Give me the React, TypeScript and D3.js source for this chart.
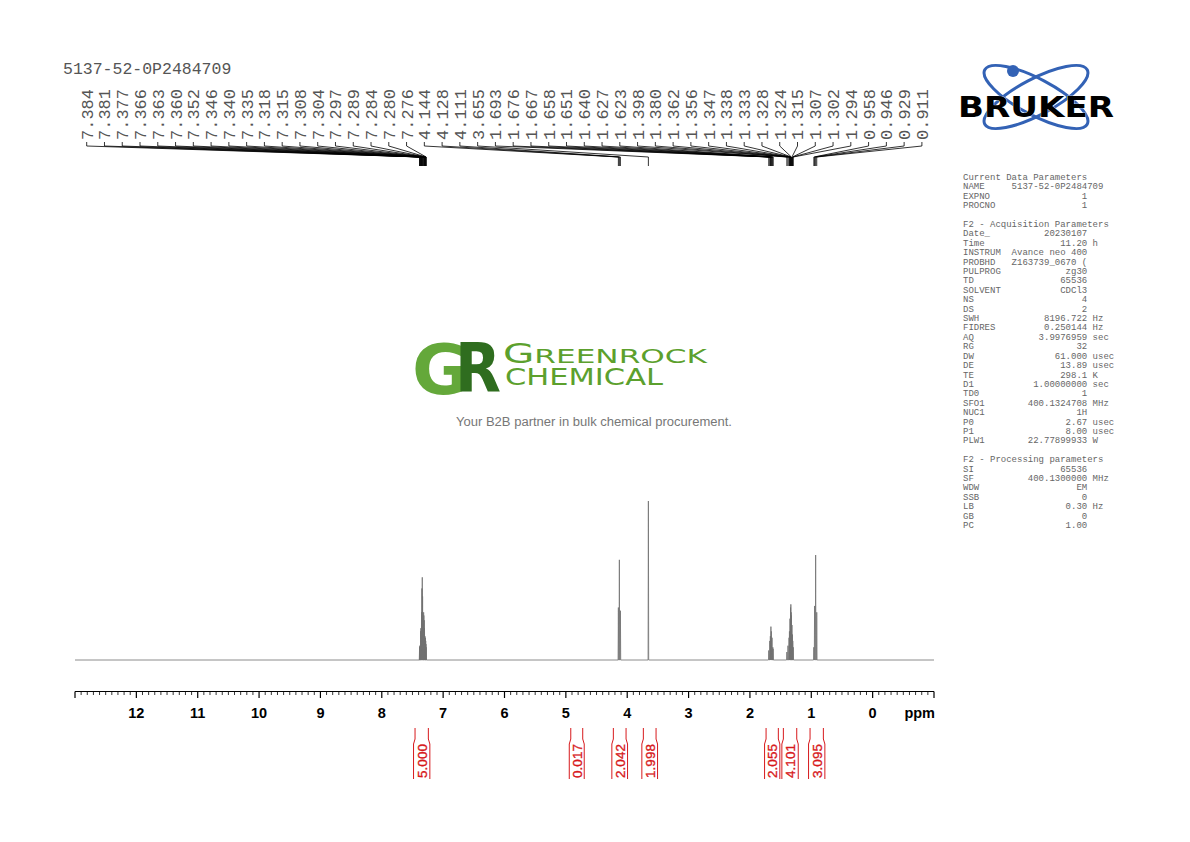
import React from 'react';
import * as d3 from 'd3';

// ---------- data ----------
const TITLE = '5137-52-0P2484709';

const peakPpm = [
  7.384, 7.381, 7.377, 7.366, 7.363, 7.36, 7.352, 7.346, 7.34, 7.335, 7.318, 7.315, 7.308, 7.304, 7.297, 7.289, 7.284, 7.28, 7.276,
  4.144, 4.128, 4.111,
  3.655,
  1.693, 1.676, 1.667, 1.658, 1.651, 1.64, 1.627, 1.623,
  1.398, 1.38, 1.362, 1.356, 1.347, 1.338, 1.333, 1.328, 1.324, 1.315, 1.307, 1.302, 1.294,
  0.958, 0.946, 0.929, 0.911,
];
const peakHeight = [
  8, 9, 8, 18, 20, 18, 30, 45, 52, 40, 30, 28, 25, 20, 15, 14, 12, 10, 8,
  33, 63, 31,
  100,
  6, 12, 15, 21, 18, 14, 8, 7,
  5, 9, 14, 18, 26, 33, 35, 30, 28, 22, 16, 12, 8,
  8, 34, 66, 30,
];

const integralValues = ['5.000', '0.017', '2.042', '1.998', '2.055', '4.101', '3.095'];
const integralFrom = [7.458, 4.92, 4.226, 3.737, 1.737, 1.455, 1.02];
const integralTo = [7.241, 4.725, 4.019, 3.53, 1.537, 1.237, 0.803];

const axisTicks = [12, 11, 10, 9, 8, 7, 6, 5, 4, 3, 2, 1, 0];

const currentParams: [string, string, string][] = [
  ['NAME', '5137-52-0P2484709', ''],
  ['EXPNO', '1', ''],
  ['PROCNO', '1', ''],
];
const acqParams: [string, string, string][] = [
  ['Date_', '20230107', ''],
  ['Time', '11.20', 'h'],
  ['INSTRUM', 'Avance neo 400', ''],
  ['PROBHD', 'Z163739_0670 (', ''],
  ['PULPROG', 'zg30', ''],
  ['TD', '65536', ''],
  ['SOLVENT', 'CDCl3', ''],
  ['NS', '4', ''],
  ['DS', '2', ''],
  ['SWH', '8196.722', 'Hz'],
  ['FIDRES', '0.250144', 'Hz'],
  ['AQ', '3.9976959', 'sec'],
  ['RG', '32', ''],
  ['DW', '61.000', 'usec'],
  ['DE', '13.89', 'usec'],
  ['TE', '298.1', 'K'],
  ['D1', '1.00000000', 'sec'],
  ['TD0', '1', ''],
  ['SFO1', '400.1324708', 'MHz'],
  ['NUC1', '1H', ''],
  ['P0', '2.67', 'usec'],
  ['P1', '8.00', 'usec'],
  ['PLW1', '22.77899933', 'W'],
];
const procParams: [string, string, string][] = [
  ['SI', '65536', ''],
  ['SF', '400.1300000', 'MHz'],
  ['WDW', 'EM', ''],
  ['SSB', '0', ''],
  ['LB', '0.30', 'Hz'],
  ['GB', '0', ''],
  ['PC', '1.00', ''],
];

// ---------- helpers ----------
const fmtRow = (r: [string, string, string]) =>
  r[0].padEnd(9) + r[1].padStart(14) + (r[2] ? ' ' + r[2] : '');

export default function App() {
  const x = d3.scaleLinear().domain([13, -1]).range([75, 934]);
  const y = d3.scaleLinear().domain([0, 100]).range([660, 501]);
  const labelX = d3.scaleLinear().domain([0, peakPpm.length - 1]).range([86.7, 921.9]);

  // spectrum path: each line a narrow spike
  const w = 0.005;
  const order = d3.range(peakPpm.length).sort((a, b) => peakPpm[b] - peakPpm[a]);
  const pts: [number, number][] = [[13, 0]];
  order.forEach((i) => {
    pts.push([peakPpm[i] + w, 0], [peakPpm[i], peakHeight[i]], [peakPpm[i] - w, 0]);
  });
  pts.push([-1, 0]);
  const line = d3.line<[number, number]>().x((d) => x(d[0])).y((d) => y(d[1]));

  const minor = d3.range(-10, 131).map((v) => v / 10);

  const paramLines: string[] = [
    'Current Data Parameters',
    ...currentParams.map(fmtRow),
    '',
    'F2 - Acquisition Parameters',
    ...acqParams.map(fmtRow),
    '',
    'F2 - Processing parameters',
    ...procParams.map(fmtRow),
  ];

  const mono = "'Liberation Mono', 'DejaVu Sans Mono', monospace";
  const sans = "'Liberation Sans', Arial, sans-serif";

  return (
    <div style={{ position: 'absolute', left: 0, top: 0 }}>
      <svg width={1190} height={842} style={{ display: 'block', background: '#fff' }}>
        {/* title */}
        <text x={63} y={74} fontFamily={mono} fontSize={16.5} fill="#555">{TITLE}</text>

        {/* peak labels */}
        {peakPpm.map((p, i) => {
          const lx = labelX(i);
          const px = x(p);
          return (
            <g key={'pl' + i}>
              <text
                transform={`translate(${lx},140) rotate(-90)`}
                dy="0.35em"
                fontFamily={mono}
                fontSize={17}
                fill="#555"
              >
                {p.toFixed(3)}
              </text>
              <path
                d={`M${lx},142 V146 L${px},157 V166`}
                fill="none"
                stroke="#000"
                strokeWidth={0.8}
              />
            </g>
          );
        })}

        {/* spectrum */}
        <path d={line(pts) || ''} fill="none" stroke="#707070" strokeWidth={0.8} />

        {/* axis */}
        <line x1={x(13)} x2={x(-1)} y1={691.5} y2={691.5} stroke="#000" strokeWidth={1} />
        {minor.map((v, i) => {
          const major = Math.abs(v - Math.round(v)) < 1e-6;
          return (
            <line
              key={'t' + i}
              x1={x(v)}
              x2={x(v)}
              y1={691.5}
              y2={major ? 698 : 695}
              stroke="#000"
              strokeWidth={major ? 1.2 : 0.8}
            />
          );
        })}
        {axisTicks.map((t) => (
          <text key={'l' + t} x={x(t)} y={718} textAnchor="middle" fontFamily={sans} fontWeight="bold" fontSize={14.5}>
            {t}
          </text>
        ))}
        <text x={935} y={718} textAnchor="end" fontFamily={sans} fontWeight="bold" fontSize={14.5}>ppm</text>

        {/* integrals */}
        {integralValues.map((v, i) => {
          const xl = x(integralFrom[i]);
          const xr = x(integralTo[i]);
          const cx = (xl + xr) / 2;
          return (
            <g key={'in' + i} stroke="#d7191c" fill="none" strokeWidth={1}>
              <path d={`M${xl},728 V739 L${xl - 1.5},744 V779`} />
              <path d={`M${xr},728 V739 L${xr + 1.5},744 V779`} />
              <text
                transform={`translate(${cx},761) rotate(-90)`}
                dy="0.36em"
                textAnchor="middle"
                fontFamily={sans}
                fontSize={13.5}
                fill="#d7191c"
                stroke="#d7191c"
                strokeWidth={0.35}
              >
                {v}
              </text>
            </g>
          );
        })}

        {/* Bruker logo */}
        <g fill="none" stroke="#3362b5" strokeWidth={3}>
          <ellipse cx={1036} cy={97} rx={58} ry={18} transform="rotate(28 1036 97)" />
          <ellipse cx={1036} cy={97} rx={58} ry={18} transform="rotate(-28 1036 97)" />
        </g>
        <circle cx={1013} cy={71} r={6} fill="#3362b5" />
        <text
          x={958}
          y={117}
          fontFamily="'DejaVu Sans', sans-serif"
          fontWeight="bold"
          fontSize={29}
          textLength={156}
          lengthAdjust="spacingAndGlyphs"
          fill="#000"
          stroke="#fff"
          strokeWidth={0.6}
          paintOrder="stroke"
        >
          BRUKER
        </text>

        {/* parameters */}
        {paramLines.map((s, i) => (
          <text
            key={'pm' + i}
            x={963}
            y={180 + i * 9.405}
            fontFamily={mono}
            fontSize={9}
            fill="#666"
            xmlSpace="preserve"
            style={{ whiteSpace: 'pre' }}
          >
            {s}
          </text>
        ))}

        {/* Greenrock watermark */}
        <text x={412} y={394} fontFamily="'DejaVu Sans', sans-serif" fontWeight="bold" fontSize={70} fill="#64a83a">G</text>
        <text x={455} y={392} fontFamily="'DejaVu Sans', sans-serif" fontWeight="bold" fontSize={67} fill="#2f6d1f" textLength={46} lengthAdjust="spacingAndGlyphs">R</text>
        <text x={503} y={363} fontFamily="'DejaVu Sans', sans-serif" fill="#5ca02d" textLength={204} lengthAdjust="spacingAndGlyphs">
          <tspan fontSize={26}>G</tspan>
          <tspan fontSize={20}>REENROCK</tspan>
        </text>
        <text x={505} y={385} fontFamily="'DejaVu Sans', sans-serif" fill="#5ca02d" fontSize={23.5} textLength={158} lengthAdjust="spacingAndGlyphs">
          CHEMICAL
        </text>
        <text x={456} y={426} fontFamily={sans} fontSize={12.5} fill="#777" textLength={276} lengthAdjust="spacingAndGlyphs">
          Your B2B partner in bulk chemical procurement.
        </text>
      </svg>
    </div>
  );
}
